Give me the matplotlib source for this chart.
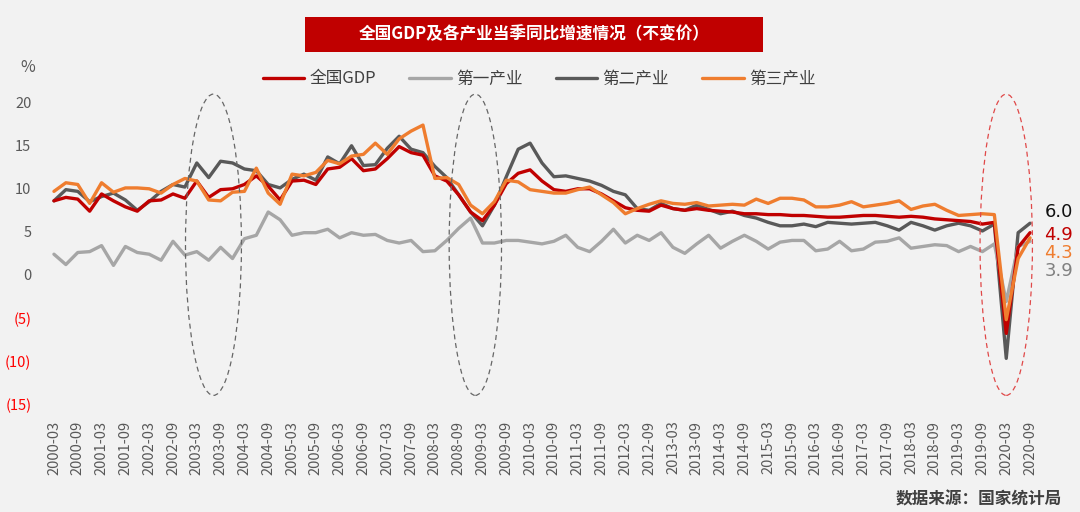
"""全国GDP及各产业当季同比增速情况（不变价）, quarterly 2000Q1-2020Q3."""
import matplotlib
matplotlib.use("Agg")
import matplotlib.pyplot as plt
from matplotlib.patches import Ellipse, Rectangle

plt.rcParams["font.family"] = ["Noto Sans CJK SC", "DejaVu Sans"]
plt.rcParams["axes.unicode_minus"] = False

# ---------- data ----------
quarters = [f"{y}-{m}" for y in range(2000, 2021) for m in ("03", "06", "09", "12")][:83]

gdp = [8.6, 9.0, 8.8, 7.4, 9.4, 8.6, 7.9, 7.4, 8.6, 8.7, 9.4, 8.9, 10.9, 9.0, 9.9, 10.0,
       10.5, 11.5, 10.3, 8.7, 10.9, 11.0, 10.5, 12.3, 12.5, 13.5, 12.1, 12.3, 13.5, 14.9,
       14.2, 13.9, 11.5, 10.9, 9.3, 7.3, 6.3, 8.1, 10.6, 11.8, 12.2, 10.9, 9.9, 9.7, 10.0,
       10.0, 9.4, 8.6, 7.8, 7.5, 7.4, 8.1, 7.7, 7.5, 7.7, 7.5, 7.4, 7.3, 7.1, 7.1, 7.0,
       7.0, 6.9, 6.9, 6.8, 6.7, 6.7, 6.8, 6.9, 6.9, 6.8, 6.7, 6.8, 6.7, 6.5, 6.4, 6.3,
       6.2, 5.9, 6.1, -6.8, 3.2, 4.9]
primary = [2.4, 1.2, 2.6, 2.7, 3.4, 1.1, 3.3, 2.6, 2.4, 1.7, 3.9, 2.3, 2.7, 1.7, 3.2, 1.9,
           4.2, 4.6, 7.3, 6.4, 4.6, 4.9, 4.9, 5.3, 4.3, 4.9, 4.6, 4.7, 4.0, 3.7, 4.0, 2.7,
           2.8, 4.0, 5.4, 6.6, 3.7, 3.7, 4.0, 4.0, 3.8, 3.6, 3.9, 4.6, 3.2, 2.7, 3.9, 5.3,
           3.7, 4.6, 4.0, 4.9, 3.2, 2.5, 3.6, 4.6, 3.1, 3.9, 4.6, 3.9, 3.0, 3.8, 4.0, 4.0,
           2.8, 3.0, 3.9, 2.8, 3.0, 3.8, 3.9, 4.3, 3.1, 3.3, 3.5, 3.4, 2.7, 3.3, 2.7, 3.6,
           -3.1, 3.3, 3.9]
secondary = [8.6, 9.9, 9.7, 8.5, 9.1, 9.5, 8.7, 7.5, 8.5, 9.7, 10.5, 10.2, 13.0, 11.3, 13.2,
             13.0, 12.3, 12.1, 10.5, 10.1, 11.1, 11.7, 11.0, 13.7, 12.9, 15.0, 12.7, 12.8,
             14.7, 16.1, 14.6, 14.2, 12.6, 11.3, 9.3, 7.3, 5.7, 8.1, 11.4, 14.6, 15.3, 13.0,
             11.4, 11.5, 11.2, 10.9, 10.4, 9.7, 9.3, 7.7, 7.5, 8.3, 7.7, 7.5, 8.1, 7.6, 7.1,
             7.4, 6.9, 6.6, 6.1, 5.7, 5.7, 5.9, 5.6, 6.1, 6.0, 5.9, 6.0, 6.1, 5.7, 5.2, 6.1,
             5.7, 5.2, 5.7, 6.0, 5.7, 5.1, 5.9, -9.7, 4.9, 6.0]
tertiary = [9.7, 10.7, 10.5, 8.3, 10.7, 9.6, 10.1, 10.1, 10.0, 9.5, 10.5, 11.2, 10.9, 8.7,
            8.6, 9.6, 9.7, 12.4, 9.5, 8.2, 11.7, 11.5, 11.9, 13.3, 12.9, 13.8, 14.0, 15.3,
            14.0, 15.8, 16.7, 17.4, 11.2, 11.3, 10.5, 8.1, 7.1, 8.5, 11.0, 10.8, 9.9, 9.7,
            9.5, 9.5, 9.9, 10.2, 9.3, 8.4, 7.1, 7.7, 8.2, 8.6, 8.3, 8.2, 8.4, 8.0, 8.1, 8.2,
            8.1, 8.8, 8.3, 8.9, 8.9, 8.7, 7.9, 7.9, 8.1, 8.5, 7.9, 8.1, 8.3, 8.6, 7.6, 8.0,
            8.2, 7.5, 6.9, 7.0, 7.1, 7.0, -5.2, 1.9, 4.3]

series_names = ["全国GDP", "第一产业", "第二产业", "第三产业"]
yticks = [-15, -10, -5, 0, 5, 10, 15, 20]
ytick_labels = ["(15)", "(10)", "(5)", "0", "5", "10", "15", "20"]

RED, LGRAY, DGRAY, ORANGE = "#c00000", "#a6a6a6", "#595959", "#ef7d2f"
BG = "#f2f2f2"


def main():
    fig = plt.figure(figsize=(10.8, 5.12), dpi=100, facecolor=BG)
    ax = fig.add_axes([48 / 1080, 1 - 404 / 512, 988 / 1080, 301.3 / 512], facecolor=BG)
    x = list(range(len(quarters)))

    kw = dict(lw=2.4, solid_joinstyle="round", solid_capstyle="round")
    l_gdp, = ax.plot(x, gdp, color=RED, zorder=4, **kw)
    l_pri, = ax.plot(x, primary, color=LGRAY, zorder=3, **kw)
    l_sec, = ax.plot(x, secondary, color=DGRAY, zorder=2, **kw)
    l_ter, = ax.plot(x, tertiary, color=ORANGE, zorder=5, **kw)

    ax.set_xlim(-0.5, len(quarters) - 0.5)
    ax.set_ylim(-15, 20)
    for s in ax.spines.values():
        s.set_visible(False)

    # x ticks every half year (03 / 09)
    xt = [i for i, q in enumerate(quarters) if q.endswith(("03", "09"))]
    ax.set_xticks(xt)
    ax.set_xticklabels([quarters[i] for i in xt], rotation=90, fontsize=10.5, color="#595959")
    ax.set_yticks(yticks)
    ax.set_yticklabels(ytick_labels, fontsize=10.5)
    for lab, v in zip(ax.get_yticklabels(), yticks):
        lab.set_color("#ff0000" if v < 0 else "#595959")
    ax.tick_params(length=0, axis="x", pad=12)
    ax.tick_params(length=0, axis="y", pad=12)

    # dashed ellipses marking the three shocks
    ax.add_patch(Ellipse((13.4, 3.5), 4.7, 35, fill=False, ls=(0, (4, 3)), lw=0.9,
                         ec="#666666", clip_on=False, zorder=6))
    ax.add_patch(Ellipse((35.4, 3.5), 4.4, 35, fill=False, ls=(0, (4, 3)), lw=0.9,
                         ec="#666666", clip_on=False, zorder=6))
    ax.add_patch(Ellipse((80.0, 3.5), 4.4, 35, fill=False, ls=(0, (4, 3)), lw=0.9,
                         ec="#e04848", clip_on=False, zorder=6))

    # latest values at the right edge
    last = [(secondary[-1], "#111111", 7.3), (gdp[-1], RED, 4.6),
            (tertiary[-1], ORANGE, 2.55), (primary[-1], "#808080", 0.45)]
    for val, col, ypos in last:
        ax.text(83.2, ypos, f"{val:.1f}", color=col, fontsize=13, va="center",
                ha="left", family="DejaVu Sans", clip_on=False)

    # title box
    fig.patches.append(Rectangle((305 / 1080, 1 - 52 / 512), 458 / 1080, 35 / 512,
                                 transform=fig.transFigure, fc=RED, ec="none"))
    fig.text(534 / 1080, 1 - 34.5 / 512, "全国GDP及各产业当季同比增速情况（不变价）",
             color="white", fontsize=12, fontweight="bold", ha="center", va="center")

    fig.text(28 / 1080, 1 - 67 / 512, "%", fontsize=11.5, color="#595959",
             ha="center", va="center")

    fig.legend([l_gdp, l_pri, l_sec, l_ter], series_names, ncol=4, frameon=False,
               loc="center", bbox_to_anchor=(539 / 1080, 1 - 79 / 512), fontsize=12,
               handlelength=2.5, handletextpad=0.3, columnspacing=2.0,
               labelcolor="#404040")

    fig.text(1062 / 1080, 1 - 499 / 512, "数据来源：国家统计局", fontsize=12,
             fontweight="bold", color="#404040", ha="right", va="center")

    fig.savefig("out.png", dpi=100, facecolor=BG)


if __name__ == "__main__":
    main()
